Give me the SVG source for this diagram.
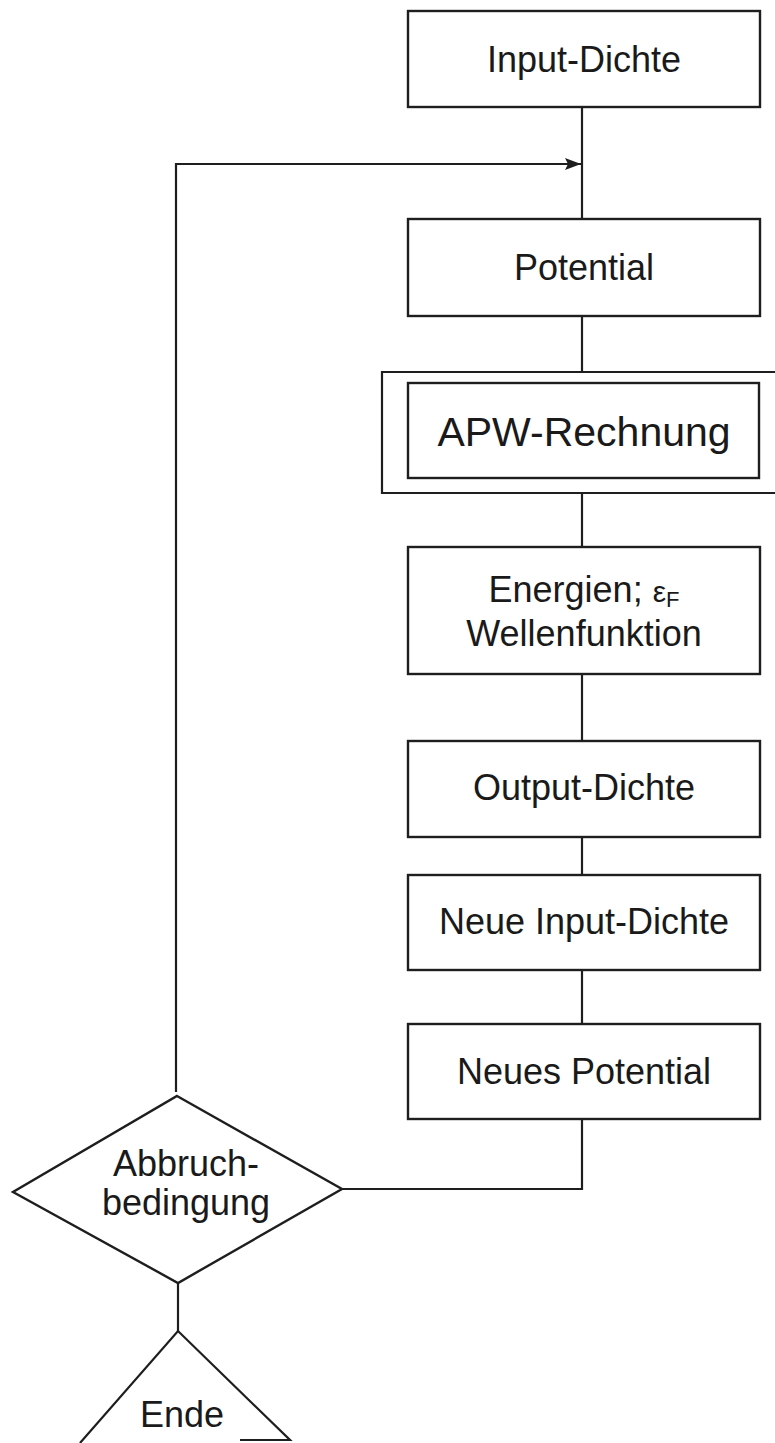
<svg xmlns="http://www.w3.org/2000/svg" width="775" height="1443" viewBox="0 0 775 1443">
  <style>
    .box { fill: #ffffff; stroke: #1e1e1e; stroke-width: 2.4; }
    .ln { fill: none; stroke: #1e1e1e; stroke-width: 2.2; }
    .lbl { font-family: "Liberation Sans", Arial, sans-serif; font-size: 36px; fill: #1a1a1a; text-anchor: middle; }
    .big { font-size: 41px; }
  </style>
  <defs>
    <marker id="arrow" viewBox="0 0 16 12" refX="16" refY="6" markerWidth="16" markerHeight="12" markerUnits="userSpaceOnUse" orient="auto">
      <path d="M0,0 L16,6 L0,12 L3,6 Z" fill="#1e1e1e"/>
    </marker>
  </defs>
  <rect width="775" height="1443" fill="#ffffff"/>

  <g id="connectors">
    <line class="ln" x1="582" y1="107" x2="582" y2="219"/>
    <line class="ln" x1="582" y1="316" x2="582" y2="372"/>
    <line class="ln" x1="582" y1="493" x2="582" y2="547"/>
    <line class="ln" x1="582" y1="674" x2="582" y2="741"/>
    <line class="ln" x1="582" y1="837" x2="582" y2="875"/>
    <line class="ln" x1="582" y1="970" x2="582" y2="1024"/>
    <polyline class="ln" points="582,1119 582,1189 342,1189"/>
    <polyline class="ln" points="176,1092 176,164 581,164" marker-end="url(#arrow)"/>
    <line class="ln" x1="178" y1="1283" x2="178" y2="1331"/>
  </g>

  <g id="input-dichte">
    <rect class="box" x="408" y="11" width="352" height="96"/>
    <text class="lbl" x="584" y="72">Input-Dichte</text>
  </g>

  <g id="potential">
    <rect class="box" x="408" y="219" width="352" height="97"/>
    <text class="lbl" x="584" y="280">Potential</text>
  </g>

  <g id="apw-rechnung">
    <path class="ln" d="M775,372 H382 V493 H775" stroke-width="2.4"/>
    <rect class="box" x="408" y="383" width="351" height="95"/>
    <text class="lbl big" x="584" y="446">APW-Rechnung</text>
  </g>

  <g id="energien">
    <rect class="box" x="408" y="547" width="352" height="127"/>
    <text class="lbl" x="584" y="602">Energien; <tspan font-size="30">ε</tspan><tspan font-size="22" dy="5">F</tspan></text>
    <text class="lbl" x="584" y="646">Wellenfunktion</text>
  </g>

  <g id="output-dichte">
    <rect class="box" x="408" y="741" width="352" height="96"/>
    <text class="lbl" x="584" y="800">Output-Dichte</text>
  </g>

  <g id="neue-input-dichte">
    <rect class="box" x="408" y="875" width="352" height="95"/>
    <text class="lbl" x="584" y="934">Neue Input-Dichte</text>
  </g>

  <g id="neues-potential">
    <rect class="box" x="408" y="1024" width="352" height="95"/>
    <text class="lbl" x="584" y="1084">Neues Potential</text>
  </g>

  <g id="abbruchbedingung">
    <polygon class="box" points="177,1096 342,1189 178,1283 13,1192"/>
    <text class="lbl" x="186" y="1176">Abbruch-</text>
    <text class="lbl" x="186" y="1215">bedingung</text>
  </g>

  <g id="ende">
    <polyline class="ln" points="80,1443 178,1331 290,1440 240,1440"/>
    <text class="lbl" x="182" y="1427">Ende</text>
  </g>
</svg>
